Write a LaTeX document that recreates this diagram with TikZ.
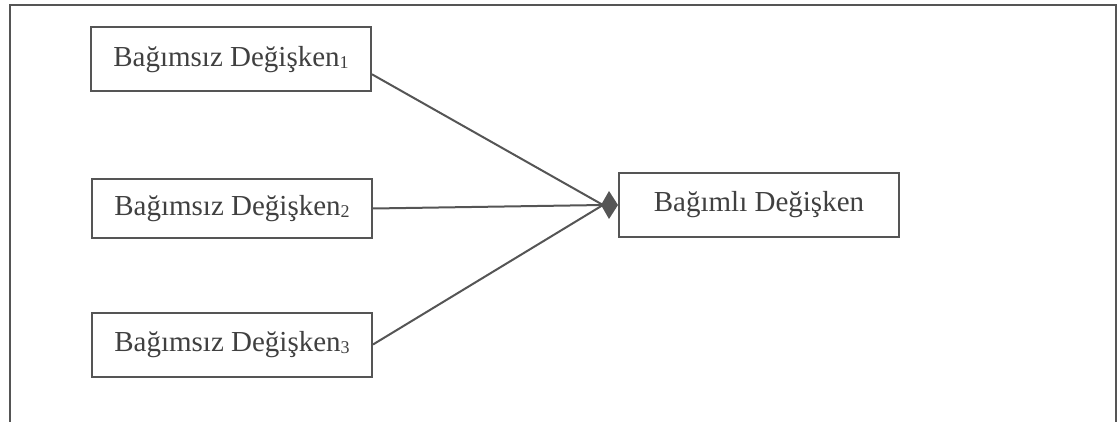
\documentclass[tikz,border=0pt]{standalone}
\usepackage{fontspec}
\setmainfont{Liberation Serif}
\usetikzlibrary{arrows.meta}
\definecolor{linegray}{HTML}{555555}
\definecolor{textgray}{HTML}{404040}
\newcommand{\lowidx}[1]{\raisebox{-2.5pt}{\fontsize{18}{18}\selectfont #1}}

\begin{document}
\begin{tikzpicture}[x=1pt,y=-1pt,
    varbox/.style={draw=linegray,line width=2pt,text=textgray,
      minimum width=280pt,minimum height=64pt,inner sep=0pt,
      font=\fontsize{29}{34}\selectfont},
    link/.style={linegray,line width=2pt}]
    \useasboundingbox (0,0) rectangle (1119,422);
    % frame, open at the bottom
    \draw[linegray,line width=2pt] (10,422) -- (10,5) -- (1116,5) -- (1116,422);
    \node[varbox] (ind1) at (231,59.5) {Bağımsız Değişken\lowidx{1}};
    \node[varbox,minimum height=59pt] (ind2) at (232,208.5) {Bağımsız Değişken\lowidx{2}};
    \node[varbox] (ind3) at (232,344.5) {Bağımsız Değişken\lowidx{3}};
    \node[varbox] (dep) at (759,205) {Bağımlı Değişken};
    \coordinate (hub) at (603,205);
    \draw[link] (ind1.-6) -- (hub);
    \draw[link] (ind2.east) -- (hub);
    \draw[link] (ind3.east) -- (hub);
    \draw[link,-{Kite[length=17pt,width=28pt,inset=8pt]}] (hub) -- (dep.west);
\end{tikzpicture}
\end{document}
